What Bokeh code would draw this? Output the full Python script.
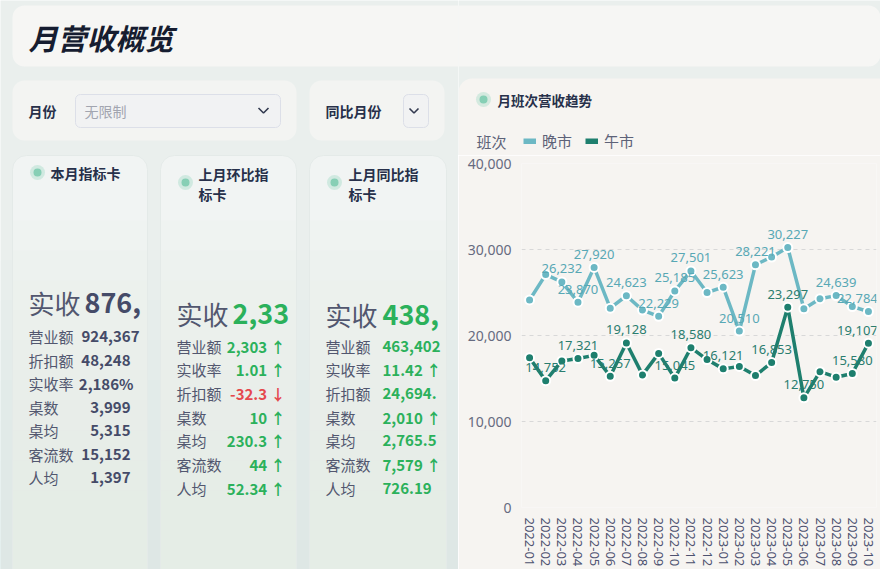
import math
from bokeh.plotting import figure
from bokeh.models import (Range1d, BoxAnnotation, ColumnDataSource, Legend, LegendItem,
                          FixedTicker, NumeralTickFormatter)
from bokeh.layouts import row, column
from bokeh.core.properties import value
from bokeh.embed import file_html
from bokeh.resources import INLINE

# ---------------- data ----------------
months = ["2022-01", "2022-02", "2022-03", "2022-04", "2022-05", "2022-06", "2022-07",
          "2022-08", "2022-09", "2022-10", "2022-11", "2022-12", "2023-01", "2023-02",
          "2023-03", "2023-04", "2023-05", "2023-06", "2023-07", "2023-08", "2023-09", "2023-10"]
dinner = [24130, 27080, 26232, 23870, 27920, 23180, 24623, 22955, 22229, 25185, 27501,
          25000, 25623, 20510, 28221, 29128, 30227, 23106, 24280, 24639, 23370, 22784]
lunch = [17424, 14752, 17045, 17321, 17689, 15257, 19128, 15417, 17917, 15045, 18580,
         17197, 16121, 16401, 15341, 16853, 23297, 12750, 15795, 15152, 15580, 19107]
dinner_labeled = [2, 3, 4, 6, 8, 9, 10, 12, 13, 14, 16, 19, 21]
lunch_labeled = [1, 3, 5, 6, 9, 10, 12, 15, 16, 17, 20, 21]
y_ticks = [0, 10000, 20000, 30000, 40000]
series_names = ["晚市", "午市"]

dashboard_title = "月营收概览"
chart_title = "月班次营收趋势"
legend_title = "班次"
filter_labels = ["月份", "同比月份"]
filter_placeholder = "无限制"

card_titles = [["本月指标卡"], ["上月环比指", "标卡"], ["上月同比指", "标卡"]]
card_head_values = ["876,", "2,33", "438,"]
card1_labels = ["营业额", "折扣额", "实收率", "桌数", "桌均", "客流数", "人均"]
card1_values = ["924,367", "48,248", "2,186%", "3,999", "5,315", "15,152", "1,397"]
card2_labels = ["营业额", "实收率", "折扣额", "桌数", "桌均", "客流数", "人均"]
card2_values = ["2,303 ↑", "1.01 ↑", "-32.3 ↓", "10 ↑", "230.3 ↑", "44 ↑", "52.34 ↑"]
card3_labels = ["营业额", "实收率", "折扣额", "桌数", "桌均", "客流数", "人均"]
card3_values = ["463,402", "11.42 ↑", "24,694.", "2,010 ↑", "2,765.5", "7,579 ↑", "726.19"]

# ---------------- styles ----------------
CJK = "Noto Sans CJK SC"
PAGE_BG = "#eaefed"
PANEL_BG = "#f6f4f1"
CARD_BG = "#f1f4f3"
NAVY = "#27304a"
LABEL_C = "#52576f"
VAL_C = "#454b68"
GREEN = "#2bb15b"
RED = "#e5484d"
C_D = "#6cb8c4"
C_L = "#1e7f6e"
DOT_C = "#86cfb5"
W, H = 880, 569
SPLIT = 458
HEAD_H = 155


def box(p, l, r, t, b, fill, alpha=1.0, line=None, radius=0):
    p.add_layout(BoxAnnotation(left=l, right=r, top=t, bottom=b, fill_color=fill,
                               fill_alpha=alpha, line_color=line,
                               line_alpha=1.0 if line else 0.0,
                               border_radius=radius, level="underlay"))


def txt(p, xs, ys, texts, size, color, align="left", style="normal", font=CJK):
    src = ColumnDataSource(dict(x=xs, y=ys, t=texts))
    p.text("x", "y", "t", source=src, text_font=value(font), text_font_size=value(size),
           text_color=color, text_align=align, text_baseline="middle",
           text_font_style=style)


def blank_fig(w, h, x0, x1, y0, y1, bg=PAGE_BG):
    f = figure(width=w, height=h, x_range=Range1d(x0, x1), y_range=Range1d(y1, y0),
               output_backend="svg", toolbar_location=None, min_border=0,
               x_axis_type=None, y_axis_type=None, background_fill_color=bg,
               border_fill_color=bg, outline_line_color=None)
    f.xgrid.visible = False
    f.ygrid.visible = False
    f.frame_align = False
    return f


# ---------------- left part (picture coordinates) ----------------
left = blank_fig(SPLIT, H, 0, SPLIT, 0, H)
for k in range(8):
    box(left, -10, SPLIT + 10, 260 + k * 40, 600, "#cfe1dc", 0.07)
# title banner
box(left, 12, 900, 5, 66, "#f6f6f4", 1.0, None, 12)
txt(left, [28], [36], [dashboard_title], "29px", "#161d30", style="bold italic")
# filter panels
box(left, 12, 296, 80, 140, "#f3f4f2", 1.0, None, 12)
box(left, 309, 444, 80, 140, "#f3f4f2", 1.0, None, 12)
box(left, 75, 280, 94, 127, "#f1f2f3", 1.0, "#dcdfe8", 5)
box(left, 403, 428, 94, 127, "#f1f2f3", 1.0, "#dcdfe8", 5)
txt(left, [28, 325], [110, 110], filter_labels, "14px", NAVY, style="bold")
txt(left, [84], [110], [filter_placeholder], "14px", "#a2a5b0")
left.line([258, 263, 268], [107.5, 112.5, 107.5], line_color="#333a50", line_width=1.6)
left.line([409, 413.5, 418], [108, 112.5, 108], line_color="#333a50", line_width=1.6)

# cards
card_x = [(12, 147), (160, 296), (309, 446)]
for (l, r) in card_x:
    box(left, l, r, 155, 640, CARD_BG, 1.0, "#e4eae8", 14)
    for k in range(10):
        box(left, l + 0.5, r - 0.5, 220 + k * 30, 600, "#d6e6e2", 0.055)

# card headers
left.scatter([37, 185, 334], [172, 182, 182], size=15, fill_color=DOT_C, fill_alpha=0.3,
             line_color=None)
left.scatter([37, 185, 334], [172, 182, 182], size=8, fill_color=DOT_C, line_color=None)
txt(left, [50], [172], card_titles[0], "14px", NAVY, style="bold")
txt(left, [198, 198], [173, 193], card_titles[1], "14px", NAVY, style="bold")
txt(left, [348, 348], [173, 193], card_titles[2], "14px", NAVY, style="bold")

# headline numbers
txt(left, [28, 176, 325], [302, 313, 314], ["实收", "实收", "实收"], "26px", LABEL_C)
txt(left, [84], [302], [card_head_values[0]], "27px", VAL_C, style="bold")
txt(left, [232, 382], [313, 314], card_head_values[1:], "27px", GREEN, style="bold")

# card rows
rows1 = [336, 359.5, 383, 406.5, 430, 453.5, 477]
rows23 = [345.5, 369.3, 393.2, 416.8, 440.4, 464, 487.6]
txt(left, [28] * 7, rows1, card1_labels, "15px", LABEL_C)
txt(left, [139, 130, 133, 130, 130, 130, 130], rows1, card1_values, "15px", VAL_C,
    align="right", style="bold")
txt(left, [176] * 7, rows23, card2_labels, "15px", LABEL_C)
c2_green = [v for v in card2_values if "↓" not in v]
c2_green_y = [y for v, y in zip(card2_values, rows23) if "↓" not in v]
c2_red = [v for v in card2_values if "↓" in v]
c2_red_y = [y for v, y in zip(card2_values, rows23) if "↓" in v]
txt(left, [285] * len(c2_green), c2_green_y, c2_green, "15px", GREEN, align="right", style="bold")
txt(left, [285] * len(c2_red), c2_red_y, c2_red, "15px", RED, align="right", style="bold")
txt(left, [325] * 7, rows23, card3_labels, "15px", LABEL_C)
txt(left, [382] * 7, rows23, card3_values, "15px", GREEN, style="bold")

# ---------------- right header (title + legend) ----------------
top = blank_fig(W - SPLIT, HEAD_H, SPLIT, W, 0, HEAD_H)
box(top, 400, 880, 5, 66, "#f6f6f4", 1.0, None, 12)
box(top, SPLIT, 920, 78, 400, PANEL_BG, 1.0, None, 14)
top.scatter([483], [99], size=15, fill_color=DOT_C, fill_alpha=0.3, line_color=None)
top.scatter([483], [99], size=8, fill_color=DOT_C, line_color=None)
txt(top, [497], [99], [chart_title], "13.5px", NAVY, style="bold")
txt(top, [476], [141], [legend_title], "15px", "#5d6278")
nan = float("nan")
key_d = top.line([nan, nan], [nan, nan], line_color=C_D, line_width=6)
key_l = top.line([nan, nan], [nan, nan], line_color=C_L, line_width=6)
legend = Legend(items=[LegendItem(label=series_names[0], renderers=[key_d]),
                       LegendItem(label=series_names[1], renderers=[key_l])],
                orientation="horizontal", location=(523 - SPLIT, HEAD_H - 151),
                padding=0, margin=0, spacing=13, glyph_width=13, glyph_height=6,
                label_standoff=6, label_height=20, background_fill_alpha=0,
                border_line_color=None, label_text_font=CJK, label_text_font_size="15px",
                label_text_color="#5d6278")
top.add_layout(legend)

# ---------------- chart ----------------
src = ColumnDataSource(dict(m=months, d=dinner, l=lunch))
last = len(months) - 1


def label_source(vals, idx):
    return ColumnDataSource(dict(m=[months[i] for i in idx],
                                 v=[vals[i] for i in idx],
                                 t=[f"{vals[i]:,}" for i in idx],
                                 dx=[-11 if i == last else 0 for i in idx]))


d_lab = label_source(dinner, dinner_labeled)
l_lab = label_source(lunch, lunch_labeled)

FRAME_L, FRAME_T, FRAME_B, FRAME_R = 521, 163, 514, 876
p = figure(width=W - SPLIT, height=H - HEAD_H, x_range=months, y_range=Range1d(0, 40000),
           output_backend="svg", toolbar_location=None,
           min_border_left=FRAME_L - SPLIT, min_border_right=W - FRAME_R,
           min_border_top=FRAME_T - HEAD_H, min_border_bottom=H - FRAME_B,
           background_fill_color=PANEL_BG, border_fill_color=PANEL_BG,
           outline_line_color=None)
p.frame_align = False
p.xgrid.visible = False
p.ygrid.grid_line_color = "#d8d8d8"
p.ygrid.grid_line_dash = "4 4"
p.yaxis.ticker = FixedTicker(ticks=y_ticks)
p.yaxis.formatter = NumeralTickFormatter(format="0,0")
for ax in (p.xaxis, p.yaxis):
    ax.axis_line_color = None
    ax.major_tick_line_color = None
    ax.minor_tick_line_color = None
p.yaxis.major_label_text_font = "Noto Sans"
p.yaxis.major_label_text_font_size = "14px"
p.yaxis.major_label_text_color = "#666b80"
p.yaxis.major_label_standoff = 4
p.xaxis.major_label_text_font = "Noto Sans"
p.xaxis.major_label_text_font_size = "13px"
p.xaxis.major_label_text_color = "#4d5270"
p.xaxis.major_label_orientation = -math.pi / 2
p.xaxis.major_label_standoff = 4

p.line("m", "d", source=src, line_color=C_D, line_width=3.5)
p.scatter("m", "d", source=src, size=9, fill_color=C_D, line_color="white", line_width=2)
p.line("m", "l", source=src, line_color=C_L, line_width=3.5)
p.scatter("m", "l", source=src, size=9, fill_color=C_L, line_color="white", line_width=2)
p.text("m", "v", "t", source=d_lab, text_align="center", text_baseline="middle",
       x_offset="dx", y_offset=-13, text_color="#58a8b5", text_font=value("Noto Sans"),
       text_font_size=value("13px"))
p.text("m", "v", "t", source=l_lab, text_align="center", text_baseline="middle",
       x_offset="dx", y_offset=-13, text_color="#2a7d6f", text_font=value("Noto Sans"),
       text_font_size=value("13px"))

layout = row(left, column(top, p))
open("out.html", "w").write(file_html(layout, INLINE))
